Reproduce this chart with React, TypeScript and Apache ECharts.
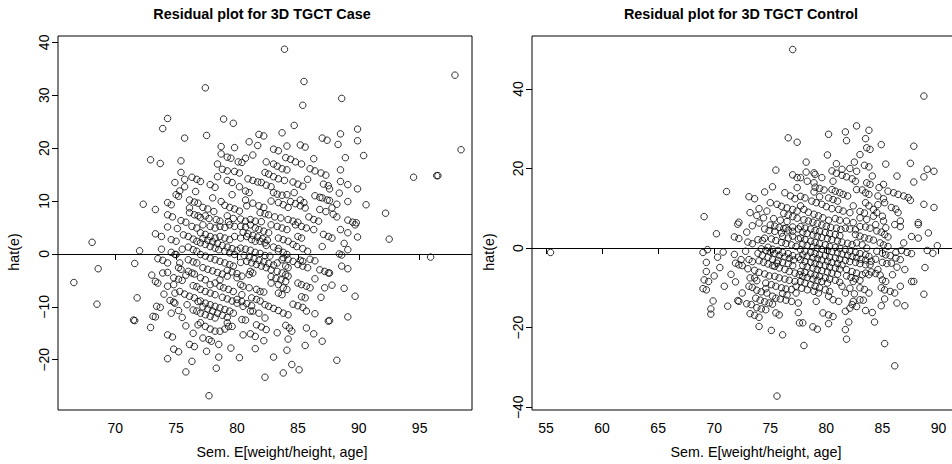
import React, { useEffect, useRef } from "react";
import * as echarts from "echarts";

const FONT = "'Liberation Sans', Arial, Helvetica, sans-serif";

const titleCase = "Residual plot for 3D TGCT Case";
const titleControl = "Residual plot for 3D TGCT Control";
const xName = "Sem. E[weight/height, age]";
const yName = "hat(e)";

const caseXTicks = [70, 75, 80, 85, 90, 95];
const caseYTicks = [-20, -10, 0, 10, 20, 30, 40];
const controlXTicks = [55, 60, 65, 70, 75, 80, 85, 90];
const controlYTicks = [-40, -20, 0, 20, 40];

// [fitted, residual]
const casePoints: [number, number][] = [
  [74.3,25.6],[73.9,23.7],[75.7,21.9],[72.9,17.8],[73.7,17.1],[75.4,17.6],[75.4,15.4],[74.9,13.5],[75.7,14.1],[75.7,12.7],
  [76.3,14.5],[76.7,14.1],[76.6,11.8],[75.3,11.9],[75.0,11.2],[75.2,10.9],[72.3,9.4],[73.3,8.4],[74.3,9.7],[74.6,9.3],
  [74.3,7.4],[74.7,7.0],[76.1,10.2],[76.5,9.8],[76.8,9.6],[76.1,8.7],[76.1,7.8],[76.5,7.4],[76.8,7.2],
  [68.1,2.2],[66.6,-5.4],[68.6,-2.8],[68.5,-9.5],[71.6,-1.8],[72.0,0.6],[71.8,-8.3],[71.5,-12.5],[71.6,-12.6],[72.9,-13.9],
  [73.1,-11.8],[73.3,-11.9],[73.4,-9.9],[73.7,-10.1],[73.0,-4.0],[73.3,-5.2],[73.5,-5.5],[73.9,-3.6],[74.3,-3.5],[73.5,-0.9],
  [73.9,-1.2],[74.3,-1.7],[74.9,-0.1],[73.3,3.8],[73.8,3.3],[74.3,5.1],[75.1,4.8],[74.6,2.7],[75.0,2.4],[74.6,0.3],
  [75.0,-0.1],[75.3,-1.7],[75.2,-2.6],[75.4,-2.9],[74.8,-4.5],[75.2,-4.8],[75.5,-5.0],[74.3,-6.1],[74.8,-5.8],[74.9,-7.4],
  [75.3,-7.1],[75.7,-7.6],[76.1,-8.0],[76.5,-8.3],[74.5,-8.8],[74.8,-9.1],[74.9,-9.3],[74.6,-11.2],[75.2,-10.7],[76.4,-10.6],
  [76.7,-10.8],[74.3,-15.3],[74.7,-15.7],[74.8,-18.0],[75.2,-18.5],[74.3,-19.8],[76.4,-15.0],[76.1,-17.1],[76.5,-17.5],[76.8,-13.4],
  [76.0,3.3],[76.4,2.8],[76.7,2.4],[76.0,1.3],[76.4,0.8],[76.7,0.5],[76.3,5.2],[76.7,4.9],[76.0,-1.1],[76.4,-1.5],
  [76.7,-1.7],[76.0,-3.3],[76.3,-3.6],[76.5,-3.8],[76.4,-6.0],[76.7,-6.2],[76.8,-9.0],
  [83.9,38.7],[77.4,31.4],[85.5,32.6],[85.4,28.1],[78.9,25.5],[79.7,24.7],[84.7,24.3],[77.5,22.4],[81.8,22.6],[82.2,22.3],
  [83.7,22.9],[81.0,21.2],[81.7,20.5],[78.7,20.3],[79.8,20.1],[84.1,20.4],[87.0,21.9],[87.4,21.5],[78.7,18.9],[79.2,18.3],
  [79.5,18.1],[80.7,18.1],[81.3,18.7],[78.4,17.0],[80.1,17.4],[80.4,17.3],[82.4,17.4],[83.0,17.0],[83.3,16.6],[83.7,16.1],
  [84.1,15.9],[84.0,18.2],[84.4,17.9],[84.8,17.4],[85.3,17.0],[86.3,18.0],[86.0,16.1],[86.4,15.7],[86.9,15.3],[87.3,14.9],
  [77.0,13.7],[77.8,13.1],[78.2,12.6],[79.8,15.6],[80.2,15.3],[78.4,14.6],[79.2,13.9],[79.6,13.5],[80.2,12.7],[82.3,15.4],
  [82.6,15.1],[83.0,14.6],[83.4,14.2],[83.9,13.9],[82.0,13.5],[82.4,13.0],[82.8,12.7],[85.8,14.1],[87.1,13.2],[87.5,12.9],
  [78.0,10.6],[78.7,9.9],[80.7,11.9],[81.0,11.6],[79.6,11.2],[80.7,10.2],[80.8,9.1],[81.3,9.6],[81.8,9.1],[82.2,8.8],
  [83.0,11.6],[83.3,11.3],[83.7,11.1],[84.1,11.2],[84.7,11.6],[82.8,10.0],[83.4,9.7],[83.8,9.3],[84.2,8.8],[85.2,10.2],
  [85.5,9.7],[86.8,8.4],[87.3,8.0],[87.0,10.6],[87.4,10.2],[77.2,8.8],[77.6,8.5],[78.1,8.0],[79.2,7.2],[79.7,6.7],
  [80.3,6.6],[81.9,7.8],[82.3,7.6],[82.6,7.4],[83.1,7.0],[83.6,6.8],
  [77.0,6.9],[77.4,7.2],[77.7,6.7],[78.3,6.5],[78.6,6.2],[79.3,6.1],[80.7,6.2],[81.1,6.5],[81.5,6.2],[82.0,6.1],
  [84.2,6.5],[84.6,6.2],[85.0,6.0],[85.9,7.0],[86.3,6.5],[86.7,6.2],
  [97.9,33.8],[88.6,29.4],[89.9,23.6],[88.5,22.7],[89.9,21.4],[88.3,20.7],[90.4,18.6],[98.4,19.7],[88.5,15.9],[88.5,13.7],
  [89.1,13.1],[89.9,12.3],[87.6,12.3],[94.5,14.5],[96.4,14.8],[96.5,14.8],[88.2,9.4],[90.6,9.3],[87.6,10.1],[87.8,8.7],
  [87.9,7.5],[88.2,7.0],[92.2,7.7],[89.1,6.4],[89.5,6.0],[89.8,5.9],
  [89.7,5.5],[88.5,4.6],[89.1,4.0],[89.9,3.2],[87.8,3.0],[92.5,2.8],[88.8,2.0],[89.1,0.8],[88.4,0.0],[88.6,-0.2],
  [95.9,-0.6],[88.6,-2.3],[89.1,-2.8],[87.6,-3.6],[87.8,-5.9],[89.7,-8.0],[87.6,-12.6],[89.1,-11.9],[88.2,-20.1],
  [77.2,5.5],[77.8,5.2],[78.2,4.9],[78.6,5.2],[79.0,5.0],[79.4,5.5],[79.8,5.2],[80.3,5.2],[80.7,5.1],[81.1,5.5],
  [81.5,4.9],[81.8,4.6],[82.2,4.3],[82.6,4.0],[82.8,5.5],[83.3,5.2],[83.7,4.9],[84.1,4.6],[84.8,5.5],[85.3,5.2],
  [85.7,4.9],[86.3,4.6],[87.1,3.7],[87.5,3.3],
  [77.0,4.0],[77.4,3.7],[77.8,3.3],[78.2,3.0],[78.6,3.3],[79.0,3.0],[79.4,2.7],[79.8,3.3],[80.3,3.0],[80.8,3.3],
  [81.2,2.7],[81.5,2.4],[81.9,2.4],[82.3,2.1],[82.4,1.6],[83.4,3.0],[83.8,2.7],[84.2,2.4],[84.6,1.8],[85.0,3.3],
  [85.3,3.0],[84.9,1.4],[85.4,1.0],[85.8,0.5],[87.0,1.4],
  [77.0,2.1],[77.4,1.8],[77.8,1.4],[78.2,1.1],[78.5,0.8],[79.0,0.5],[79.4,0.2],[79.8,-0.1],[80.3,1.1],[80.7,0.9],
  [81.1,0.7],[81.5,0.3],[81.9,0.1],[82.3,-0.3],[82.7,-0.4],[83.4,0.5],[83.8,0.3],[84.1,-0.1],[83.7,-1.1],[83.3,-1.7],
  [84.0,-2.3],[84.2,-2.6],[85.2,-1.2],[85.4,-1.4],[85.8,-2.6],[86.4,-4.7],[86.8,-3.0],[87.2,-3.3],[87.5,-3.6],[87.2,-6.4],
  [87.5,-12.7],[87.0,-16.5],
  [77.0,-0.1],[77.4,-0.4],[77.8,-0.8],[78.2,-1.1],[78.6,-1.4],[79.0,-1.7],[79.4,-2.0],[79.7,-2.3],[80.3,-1.6],[80.8,-1.4],
  [81.2,-1.7],[81.6,-2.0],[82.0,-2.3],[82.4,-2.6],[82.8,-3.0],[83.3,-3.3],[83.7,-3.6],[84.0,-3.9],[84.2,-4.2],[81.1,-3.3],
  [81.3,-3.6],[81.0,-3.9],[80.4,-4.2],[80.0,-4.5],[79.2,-4.2],[78.6,-4.9],[78.2,-5.5],[77.8,-5.8],[77.4,-4.9],[77.0,-4.5],
  [77.0,-6.7],[77.4,-7.1],[77.8,-7.4],[78.2,-7.7],[78.6,-6.1],[78.9,-6.4],[79.3,-6.7],[79.7,-7.1],[80.3,-5.8],[80.5,-6.1],
  [81.0,-6.4],[81.6,-6.7],[81.9,-7.1],[82.2,-7.2],[82.8,-5.5],[83.4,-5.8],[83.8,-6.4],[84.1,-6.7],[83.7,-7.7],[83.4,-7.4],
  [85.0,-5.5],[85.3,-5.8],[85.7,-6.1],[86.0,-6.4],[85.3,-8.1],[85.6,-8.3],
  [77.0,-8.9],[77.4,-9.3],[77.8,-9.6],[78.2,-9.9],[78.6,-10.2],[79.0,-10.5],[79.4,-10.8],[79.7,-11.2],[80.4,-7.7],[80.5,-9.9],
  [81.2,-8.3],[81.6,-8.6],[81.9,-8.9],[82.3,-9.6],[81.3,-10.8],[81.8,-11.2],[82.3,-12.1],[81.1,-10.8],[83.8,-11.2],[84.2,-11.5],
  [85.7,-10.8],[86.4,-11.3],[77.0,-11.2],[77.4,-11.5],[77.8,-11.8],[78.2,-12.1],
  [77.0,-13.0],[77.4,-13.7],[77.8,-14.2],[78.2,-14.6],[78.6,-14.6],[79.0,-14.2],[79.3,-13.7],[79.6,-13.7],[79.2,-13.0],[80.4,-12.4],
  [80.7,-12.5],[81.6,-13.4],[82.0,-13.8],[82.4,-14.3],[80.5,-15.3],[81.1,-15.1],[81.5,-15.6],[82.2,-16.4],[83.3,-14.9],[84.0,-13.5],
  [84.3,-14.0],[84.5,-14.6],[84.2,-16.1],[85.7,-14.0],
  [77.2,-15.9],[77.7,-16.2],[77.9,-16.5],[78.5,-17.1],[77.5,-18.4],[78.5,-19.5],[78.3,-21.6],[81.5,-17.9],[83.0,-19.5],[84.1,-18.2],
  [84.5,-20.9],[85.1,-21.9],[83.8,-22.5],[82.3,-23.3],[77.7,-26.8],
  [77.2,2.9],[77.6,2.6],[78.0,2.3],[78.4,2.0],[78.8,1.6],[79.2,1.3],[79.6,1.0],[80.0,0.7],
  [80.5,4.1],[80.9,3.8],[81.3,3.5],[81.7,3.2],[82.1,2.9],[82.5,2.6],
  [83.0,1.3],[83.4,1.0],[83.8,-0.7],[84.2,-1.0],[84.6,-1.4],
  [77.2,-2.6],[77.6,-2.9],[78.0,-3.2],[78.4,-3.5],[78.8,-3.8],[79.2,-3.1],[79.6,-3.4],[80.0,-3.7],
  [80.6,-0.3],[81.0,-0.6],[81.4,-0.9],[81.8,-1.2],[82.2,-1.5],[82.6,-1.8],[83.0,-2.1],
  [77.2,-10.0],[77.6,-10.4],[78.0,-10.8],[78.4,-11.2],[78.8,-11.6],[79.2,-12.0],
  [80.0,-8.6],[80.4,-9.0],[80.8,-9.4],[81.2,-9.8],[82.6,-9.9],[83.0,-10.3],[83.4,-10.7],
  [78.8,-8.2],[79.2,-8.5],[79.6,-8.9],[80.0,-9.3],[82.8,-4.3],[83.2,-4.6],[83.6,-4.9],[84.0,-5.2],
  [85.0,-2.0],[85.4,-2.3],[86.0,-1.0],[86.4,-1.3],[84.6,-9.5],[85.0,-9.8],[85.4,-10.1],
  [75.5,0.9],[75.6,3.6],[75.8,-4.0],[75.9,-9.6],[75.5,-12.0],[75.8,-13.6],[75.4,6.3],[75.8,6.0],[74.0,-7.6],[73.8,0.9],
  [79.0,9.2],[79.4,8.8],[79.8,8.5],[80.2,8.1],[84.6,13.6],[85.0,13.2],[85.4,12.8],
  [84.4,9.9],[84.8,9.5],[85.2,9.1],[85.6,8.7],[80.9,14.2],[81.3,13.9],[81.7,13.6],[78.8,16.0],[79.2,15.7],
  [85.2,20.6],[85.6,20.2],[83.0,19.8],[83.4,19.5],[86.4,11.0],[86.8,10.7],[88.9,18.2],[88.4,11.5],[89.1,9.9],[88.8,-6.5],
  [86.9,-8.2],[86.3,-15.1],[85.6,-17.3],[80.2,-19.6],[79.5,-17.8],[76.3,-20.3],[75.8,-22.3],
];

// [fitted, residual]
const controlPoints: [number, number][] = [
  [77.0,49.9],[76.6,27.7],[77.4,26.6],[75.5,19.6],[77.0,18.4],[77.4,17.7],[75.2,15.4],[74.5,14.1],[73.1,12.9],[73.6,12.4],
  [71.1,14.2],[69.1,7.9],[74.0,9.9],[74.7,9.3],[72.2,6.5],[75.0,11.4],[75.6,11.0],[76.0,10.5],[76.5,10.1],[77.0,9.7],
  [77.4,9.3],[76.3,13.9],[76.8,13.1],[77.2,12.4],[77.4,15.2],[73.2,8.9],[73.8,8.2],[74.4,7.6],[75.3,7.4],[75.9,7.0],[76.5,6.7],
  [88.7,38.2],[82.7,30.7],[80.2,28.6],[81.7,29.2],[81.8,27.0],[83.8,29.6],[83.5,27.5],[83.6,25.2],[83.9,24.8],[84.9,26.0],
  [87.8,25.6],[80.1,23.4],[83.0,23.5],[82.5,21.6],[83.4,20.8],[83.8,20.4],[85.3,21.1],[87.5,21.3],[78.2,21.6],[78.2,19.1],
  [78.9,18.9],[79.0,18.5],[79.6,17.7],[80.9,21.2],[81.4,19.8],[82.1,20.0],[82.7,19.3],[80.5,19.4],[80.9,18.8],[81.4,18.3],
  [81.8,17.9],[82.3,17.4],[82.6,16.8],[84.1,18.1],[83.6,16.4],[83.9,16.0],[86.3,18.1],[85.1,16.0],[89.0,19.8],[89.6,19.3],
  [88.7,17.9],[87.8,16.6],[77.7,17.7],[78.3,16.8],[78.9,16.4],[80.6,16.8],[80.5,14.7],[80.8,14.3],[81.2,13.9],[81.5,13.5],
  [81.9,13.1],[78.9,14.1],[82.7,14.7],[83.2,14.6],[83.5,13.9],[83.8,13.5],[84.7,15.2],[84.6,13.1],[85.1,12.4],[85.2,11.4],
  [85.5,14.3],[86.0,13.9],[86.4,13.5],[86.9,13.1],[87.3,12.7],[87.5,12.0],[88.7,11.0],[89.6,10.2],[86.4,8.9],
  [77.7,13.0],[78.1,12.6],[78.7,11.8],[79.1,11.4],[79.6,11.0],[80.0,10.4],[80.5,9.9],[81.1,9.7],[81.5,9.3],[82.1,8.9],
  [81.0,11.8],[82.4,10.6],[83.5,11.4],[83.8,10.6],[84.2,9.7],[84.5,8.9],[85.0,8.0],
  [77.7,10.6],[78.0,9.7],[78.4,9.0],[78.9,8.5],[79.3,8.1],[79.7,7.6],[80.2,7.0],[80.8,7.4],[81.2,7.0],[81.8,6.8],
  [82.4,6.4],[83.0,7.6],[83.6,7.2],[84.2,8.0],[85.1,6.8],[86.6,6.8],[88.2,6.4],
  [55.4,-1.1],[69.0,-1.1],[69.4,-0.4],[70.2,3.6],[72.1,6.0],[71.8,2.8],[72.2,2.4],[69.3,-3.6],[70.3,-2.3],[70.5,-4.9],
  [69.3,-5.9],[69.1,-8.0],[69.5,-8.4],[69.0,-10.2],[69.3,-10.5],[69.9,-13.3],[69.7,-15.3],[69.7,-16.6],[70.9,-9.6],[71.2,-14.6],
  [71.8,-1.6],[71.9,-3.8],[72.2,-4.2],[72.5,-4.4],[72.4,-2.9],[73.1,-2.9],[73.4,-3.4],[71.9,-8.5],[72.5,-11.3],[72.1,-13.2],
  [72.2,-13.4],[72.9,-14.0],[73.3,-14.2],[73.2,-16.5],[73.6,-16.9],[74.0,-17.4],[73.2,-7.5],[73.6,-7.5],[73.1,-9.6],[73.4,-9.9],
  [73.8,-8.2],[74.6,-8.8],[74.0,-19.7],[75.1,-20.7],[76.1,-21.8],[75.6,-37.2],
  [73.7,-12.6],[74.1,-13.1],[74.5,-13.5],[74.9,-13.8],[75.2,-14.1],[73.8,-15.0],[74.2,-15.3],[74.6,-15.5],[75.5,-16.3],[75.8,-16.8],
  [74.7,-11.3],[75.2,-12.1],[75.5,-12.6],[75.9,-12.8],[76.4,-13.1],[76.9,-13.4],
  [73.0,1.5],[73.4,1.1],[73.9,2.1],[74.3,1.9],[74.5,4.8],[74.9,4.4],[75.4,4.2],[76.0,3.8],[76.4,5.0],
  [74.5,2.5],[75.1,2.3],[75.5,1.9],[76.0,1.4],[76.4,1.1],[76.9,0.8],[77.3,0.4],
  [73.9,-1.3],[74.3,-1.8],[74.8,-2.3],[75.2,-2.8],[75.7,-3.1],[76.1,-3.6],[76.6,-3.9],[77.0,-4.4],
  [73.6,-5.6],[74.0,-6.1],[74.5,-6.5],[74.9,-7.0],[75.4,-7.1],[75.8,-7.5],[76.3,-7.8],[76.7,-8.1],[77.2,-8.4],
  [75.1,-9.2],[75.5,-9.6],[76.0,-10.0],[76.4,-10.3],
  [75.4,-4.6],[75.8,-5.0],[76.3,-5.4],[76.7,-5.9],[77.2,-6.3],[77.6,-6.7],
  [74.8,0.2],[75.2,-0.3],[75.7,-0.6],[76.1,-1.1],[76.6,-1.4],[77.0,-1.9],[77.5,-2.3],
  [77.5,-16.2],[77.6,-18.8],[77.3,-11.3],[77.5,-13.8],[76.1,2.9],[76.6,2.5],[77.0,5.3],[77.5,4.8],[77.0,3.0],[77.5,2.3],
  [86.1,-29.6],[85.2,-24.0],[78.0,-24.5],[81.8,-22.9],[81.7,-20.5],[82.0,-18.6],[84.3,-18.6],[84.1,-16.2],[83.5,-15.7],[80.2,-19.0],
  [79.7,-16.3],[80.2,-16.8],[80.6,-17.2],[77.9,-18.8],[78.8,-19.8],[79.2,-20.4],
  [81.7,-15.9],[82.3,-14.2],[82.7,-14.7],[83.3,-13.1],[83.8,-11.3],
  [84.9,-14.5],[85.2,-12.8],[84.9,-10.0],[85.2,-10.5],[85.7,-10.9],[86.1,-11.3],[86.3,-13.8],[87.0,-14.5],
  [86.6,-9.6],[85.9,-6.7],[86.3,-4.8],[87.0,-5.4],[87.8,-8.4],[87.6,-8.4],[88.7,-11.6],[88.8,-4.9],[89.0,-0.6],[89.5,-1.3],
  [89.9,0.6],[89.1,3.8],[88.2,2.5],[87.6,2.9],[88.2,5.9],[86.9,1.3],[86.7,-0.6],[87.2,-1.1],[87.6,-1.4],
  [86.2,-1.1],[86.2,-2.5],[86.6,5.4],[86.1,5.9],[85.2,3.4],[85.5,2.8],[84.8,1.3],[85.1,0.8],[85.5,0.4],
  [84.5,-0.8],[85.0,-1.3],[85.3,-1.7],[85.7,-1.9],[84.4,-2.8],[85.0,-3.6],[85.4,-3.9],[84.6,-5.4],[85.0,-8.0],[85.3,-8.4],
  [85.8,-3.8],[86.6,-2.9],[83.0,-13.0],[82.4,-13.4],[82.1,-15.1],
  [81.4,-9.6],[81.7,-11.3],[82.1,-10.1],[82.4,-8.4],[83.0,-8.1],[83.5,-6.3],[83.8,-6.7],[83.9,-4.2],[83.8,-2.1],[83.6,0.0],
  [83.2,0.8],[82.7,1.3],
  [80.6,-13.0],[81.1,-13.4],[80.2,-12.1],[79.1,-13.4],[79.3,-11.3],[78.9,-10.9],[78.3,-10.5],[77.8,-10.1],[77.7,-8.4],[78.1,-8.8],
  [78.6,-9.2],[79.0,-9.6],[79.4,-10.0],[79.9,-10.5],[80.3,-10.9],
  [77.7,-5.9],[78.1,-6.1],[78.6,-6.5],[79.0,-6.8],[79.4,-7.1],[79.9,-7.5],[80.3,-7.8],[80.8,-8.1],[81.2,-8.6],[81.8,-5.4],
  [82.3,-5.9],[82.7,-6.3],[83.2,-6.7],
  [77.7,-2.9],[78.1,-3.4],[78.6,-3.6],[79.0,-3.9],[79.4,-4.2],[79.9,-4.4],[80.3,-4.8],[80.8,-5.0],[81.2,-5.3],
  [77.7,-0.4],[78.1,-0.8],[78.6,-1.1],[79.0,-1.4],[79.4,-1.7],[79.9,-1.9],[80.3,-2.3],[80.8,-2.5],[81.2,-2.8],[81.7,-3.1],
  [82.1,-3.4],[82.6,-3.6],[83.0,-3.9],[83.5,-4.2],
  [77.7,2.5],[78.1,2.1],[78.6,1.7],[79.0,1.4],[79.4,1.1],[79.9,0.8],[80.3,0.4],[80.8,0.2],[81.2,-0.1],[81.7,-0.4],
  [82.1,-0.8],[82.6,-1.1],[83.0,-1.4],[83.5,-1.7],
  [77.7,5.4],[78.1,5.0],[78.6,4.8],[79.0,4.4],[79.4,4.2],[79.9,3.9],[80.3,3.6],[80.8,3.4],[81.2,3.1],[81.7,5.0],
  [82.1,4.8],[82.6,4.6],[83.0,5.4],[83.5,5.3],[83.9,5.0],[84.4,5.9],
  [78.0,7.1],[78.4,6.8],[78.8,6.5],[79.2,6.2],[79.6,5.8],[80.0,5.5],[80.4,5.2],[80.9,5.0],[81.3,4.7],
  [77.9,4.0],[78.3,3.7],[78.8,3.3],[79.2,3.0],[79.6,2.7],[80.1,2.4],[80.5,2.1],[81.0,1.8],[81.4,1.5],[81.9,1.2],[82.3,0.9],
  [77.9,1.0],[78.3,0.7],[78.8,0.3],[79.2,0.0],[79.6,-0.3],[80.1,-0.6],[80.5,-0.9],[81.0,-1.2],[81.4,-1.5],[81.9,-1.8],[82.3,-2.1],
  [77.9,-1.7],[78.3,-2.0],[78.8,-2.4],[79.2,-2.7],[79.6,-3.0],[80.1,-3.3],[80.5,-3.6],[81.0,-3.9],[81.4,-4.2],
  [77.9,-4.4],[78.3,-4.7],[78.8,-5.0],[79.2,-5.4],[79.6,-5.7],[80.1,-6.0],[80.5,-6.3],[81.0,-6.6],
  [77.9,-7.1],[78.3,-7.4],[78.8,-7.8],[79.2,-8.1],[79.6,-8.4],[80.1,-8.8],
  [74.2,-0.2],[74.6,-0.6],[75.0,-1.0],[75.4,-1.4],[75.8,-1.8],[76.3,-2.2],[76.7,-2.6],[77.1,-3.0],
  [74.0,-3.2],[74.4,-3.6],[74.8,-4.0],[75.2,-4.4],[75.6,-3.8],
  [73.8,-10.6],[74.2,-11.0],[74.6,-10.2],[76.1,-11.4],[76.5,-11.8],[76.9,-10.4],[77.3,-9.6],
  [75.0,5.8],[75.4,5.5],[75.8,5.2],[76.2,4.9],[76.6,4.5],[77.0,4.2],
  [76.2,8.7],[76.6,8.3],[77.0,7.9],[77.4,7.5],
  [82.6,3.4],[83.0,3.0],[83.4,2.6],[83.8,2.3],[84.2,2.0],
  [82.7,-2.4],[83.1,-2.8],[83.5,-3.0],[84.0,-3.3],
  [81.8,-7.0],[82.2,-7.4],[82.6,-7.7],[83.0,-10.0],[83.4,-10.4],[82.5,-11.5],
  [84.0,-6.0],[84.4,-6.4],[84.8,-6.8],[84.5,4.3],[84.9,4.0],[85.3,5.1],
  [79.0,15.3],[79.4,15.0],[79.8,14.6],[80.2,12.6],[80.6,12.2],[79.4,12.9],
  [83.0,9.2],[83.4,8.8],[84.6,10.9],[85.8,10.2],[86.2,9.8],
  [73.0,-5.2],[72.8,-0.8],[72.9,4.0],[73.4,5.6],[74.0,6.3],[71.5,-6.6],[70.8,-1.0],[70.0,-7.0],
];

const minus = (v: number) => (v < 0 ? "\u2212" + Math.abs(v) : String(v));

function scatter(idx: number, data: [number, number][]) {
  return {
    type: "scatter",
    xAxisIndex: idx,
    yAxisIndex: idx,
    data,
    symbol: "circle",
    symbolSize: 6.5,
    itemStyle: { color: "rgba(0,0,0,0)", borderColor: "#000", borderWidth: 1 },
    silent: true,
    markLine: {
      silent: true,
      symbol: "none",
      label: { show: false },
      lineStyle: { color: "#000", width: 1, type: "solid" },
      data: [{ yAxis: 0 }],
    },
  };
}

function xAxis(idx: number, min: number, max: number, ticks: number[]) {
  return {
    type: "value",
    gridIndex: idx,
    min,
    max,
    axisLine: { show: false },
    splitLine: { show: false },
    axisTick: { show: true, length: 6, customValues: ticks, lineStyle: { color: "#000", width: 1 } },
    axisLabel: { customValues: ticks, color: "#000", fontSize: 14, margin: 11, fontFamily: FONT },
  };
}

function yAxis(idx: number, min: number, max: number, ticks: number[]) {
  return {
    type: "value",
    gridIndex: idx,
    min,
    max,
    axisLine: { show: false },
    splitLine: { show: false },
    axisTick: { show: true, length: 6, customValues: ticks, lineStyle: { color: "#000", width: 1 } },
    axisLabel: {
      customValues: ticks,
      rotate: 90,
      color: "#000",
      fontSize: 14,
      margin: 7,
      fontFamily: FONT,
      formatter: (v: number) => minus(v),
    },
  };
}

function label(text: string, x: number, y: number, rotated: boolean, bold = false, size = 14.4) {
  return {
    type: "text",
    x,
    y,
    rotation: rotated ? Math.PI / 2 : 0,
    style: {
      text,
      font: `${bold ? "bold " : ""}${size}px ${FONT}`,
      fill: "#000",
      textAlign: "center",
      textVerticalAlign: "middle",
    },
  };
}

export default function App() {
  const ref = useRef<HTMLDivElement>(null);
  useEffect(() => {
    if (!ref.current) return;
    const chart = echarts.init(ref.current, null, { renderer: "svg" });
    chart.setOption({
      animation: false,
      backgroundColor: "#fff",
      grid: [
        { left: 58, top: 36, width: 414, height: 374, show: true, borderColor: "#000", borderWidth: 1, backgroundColor: "transparent" },
        { left: 532, top: 36, width: 430, height: 374, show: true, borderColor: "#000", borderWidth: 1, backgroundColor: "transparent" },
      ],
      xAxis: [xAxis(0, 65.3, 99.3, caseXTicks), xAxis(1, 53.75, 92.1, controlXTicks)],
      yAxis: [yAxis(0, -29.5, 41.2, caseYTicks), yAxis(1, -40.7, 53.3, controlYTicks)],
      series: [scatter(0, casePoints), scatter(1, controlPoints)],
      graphic: [
        label(titleCase, 262, 14, false, true, 14.4),
        label(titleControl, 741, 14, false, true, 14.4),
        label(xName, 282, 452, false, false, 14.3),
        label(xName, 756, 452, false, false, 14.3),
        label(yName, 14, 252, true, false, 14.3),
        label(yName, 489, 252, true, false, 14.3),
      ],
    });
    return () => chart.dispose();
  }, []);
  return (
    <div style={{ position: "fixed", left: 0, top: 0, width: 952, height: 464, overflow: "hidden", background: "#fff" }}>
      <div ref={ref} style={{ width: 1000, height: 464 }} />
    </div>
  );
}
